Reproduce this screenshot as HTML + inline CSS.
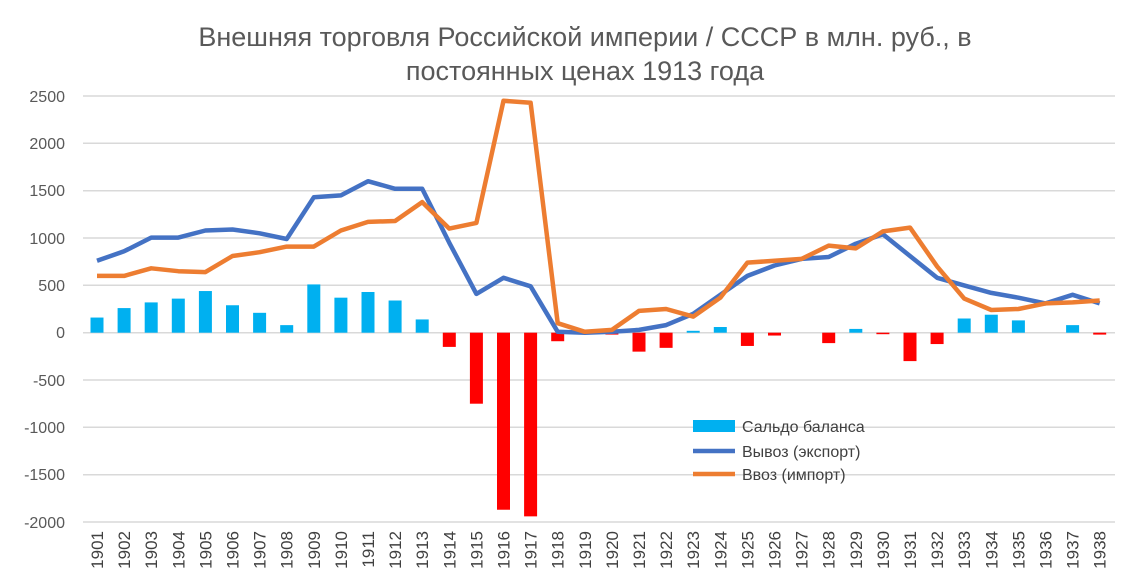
<!DOCTYPE html>
<html><head><meta charset="utf-8"><style>
body{margin:0;background:#fff;}
svg{display:block;font-family:"Liberation Sans Narrow","Liberation Sans",sans-serif;}
</style></head><body>
<svg id="s" width="1147" height="588" viewBox="0 0 1147 588">
<rect width="1147" height="588" fill="#fff"/>
<text x="585" y="46" text-anchor="middle" font-size="27" fill="#595959">Внешняя торговля Российской империи / СССР в млн. руб., в</text>
<text x="585" y="80" text-anchor="middle" font-size="27" fill="#595959">постоянных ценах 1913 года</text>
<g stroke="#d9d9d9" stroke-width="1.5">
<line x1="83" x2="1115" y1="96" y2="96"/><line x1="83" x2="1115" y1="143.3" y2="143.3"/>
<line x1="83" x2="1115" y1="190.7" y2="190.7"/><line x1="83" x2="1115" y1="238" y2="238"/>
<line x1="83" x2="1115" y1="285.3" y2="285.3"/><line x1="83" x2="1115" y1="332.7" y2="332.7"/>
<line x1="83" x2="1115" y1="380" y2="380"/><line x1="83" x2="1115" y1="427.3" y2="427.3"/>
<line x1="83" x2="1115" y1="474.7" y2="474.7"/><line x1="83" x2="1115" y1="522" y2="522"/>
</g>
<g font-size="16" fill="#595959" text-anchor="end" font-family="Liberation Sans,sans-serif">
<text x="65" y="102">2500</text><text x="65" y="149">2000</text><text x="65" y="196">1500</text>
<text x="65" y="244">1000</text><text x="65" y="291">500</text><text x="65" y="338">0</text>
<text x="65" y="386">-500</text><text x="65" y="433">-1000</text><text x="65" y="480">-1500</text>
<text x="65" y="528">-2000</text>
</g>
<g id="bars"></g>
<polyline id="ex" fill="none" stroke="#4472c4" stroke-width="4.5" stroke-linejoin="round"/>
<polyline id="im" fill="none" stroke="#ed7d31" stroke-width="4.5" stroke-linejoin="round"/>
<g font-size="17" fill="#404040" text-anchor="end" font-family="Liberation Sans,sans-serif">
<text transform="translate(103,531) rotate(-90)">1901</text><text transform="translate(130.1,531) rotate(-90)">1902</text>
<text transform="translate(157.2,531) rotate(-90)">1903</text><text transform="translate(184.3,531) rotate(-90)">1904</text>
<text transform="translate(211.4,531) rotate(-90)">1905</text><text transform="translate(238.5,531) rotate(-90)">1906</text>
<text transform="translate(265.6,531) rotate(-90)">1907</text><text transform="translate(292.7,531) rotate(-90)">1908</text>
<text transform="translate(319.8,531) rotate(-90)">1909</text><text transform="translate(346.9,531) rotate(-90)">1910</text>
<text transform="translate(374,531) rotate(-90)">1911</text><text transform="translate(401.1,531) rotate(-90)">1912</text>
<text transform="translate(428.2,531) rotate(-90)">1913</text><text transform="translate(455.3,531) rotate(-90)">1914</text>
<text transform="translate(482.4,531) rotate(-90)">1915</text><text transform="translate(509.5,531) rotate(-90)">1916</text>
<text transform="translate(536.6,531) rotate(-90)">1917</text><text transform="translate(563.7,531) rotate(-90)">1918</text>
<text transform="translate(590.8,531) rotate(-90)">1919</text><text transform="translate(617.9,531) rotate(-90)">1920</text>
<text transform="translate(645,531) rotate(-90)">1921</text><text transform="translate(672.1,531) rotate(-90)">1922</text>
<text transform="translate(699.2,531) rotate(-90)">1923</text><text transform="translate(726.3,531) rotate(-90)">1924</text>
<text transform="translate(753.4,531) rotate(-90)">1925</text><text transform="translate(780.5,531) rotate(-90)">1926</text>
<text transform="translate(807.6,531) rotate(-90)">1927</text><text transform="translate(834.7,531) rotate(-90)">1928</text>
<text transform="translate(861.8,531) rotate(-90)">1929</text><text transform="translate(888.9,531) rotate(-90)">1930</text>
<text transform="translate(916,531) rotate(-90)">1931</text><text transform="translate(943.1,531) rotate(-90)">1932</text>
<text transform="translate(970.2,531) rotate(-90)">1933</text><text transform="translate(997.3,531) rotate(-90)">1934</text>
<text transform="translate(1024.4,531) rotate(-90)">1935</text><text transform="translate(1051.5,531) rotate(-90)">1936</text>
<text transform="translate(1078.6,531) rotate(-90)">1937</text><text transform="translate(1105.7,531) rotate(-90)">1938</text>
</g>
<rect x="693" y="420" width="42" height="12" fill="#00b0f0"/>
<text x="742" y="432" font-size="16" fill="#404040" font-family="Liberation Sans,sans-serif">Сальдо баланса</text>
<line x1="693" x2="735" y1="451" y2="451" stroke="#4472c4" stroke-width="4.5"/>
<text x="742" y="457" font-size="16" fill="#404040" font-family="Liberation Sans,sans-serif">Вывоз (экспорт)</text>
<line x1="693" x2="735" y1="474" y2="474" stroke="#ed7d31" stroke-width="4.5"/>
<text x="742" y="480" font-size="16" fill="#404040" font-family="Liberation Sans,sans-serif">Ввоз (импорт)</text>
</svg>
<script>
var ex=[760,860,1005,1005,1080,1090,1050,990,1430,1450,1600,1520,1520,950,410,580,490,10,0,10,30,80,200,400,600,710,780,800,940,1040,810,580,500,420,370,310,400,310];
var im=[600,600,680,650,640,810,850,910,910,1080,1170,1180,1380,1100,1160,2450,2430,100,10,30,230,250,170,370,740,760,780,920,890,1070,1110,700,360,240,250,310,320,340];
var sa=[160,260,320,360,440,290,210,80,510,370,430,340,140,-150,-750,-1870,-1940,-90,-10,-20,-200,-160,20,60,-140,-30,0,-110,40,-10,-300,-120,150,190,130,0,80,-20];
function X(i){return 97+27.1*i;}function Y(v){return 332.7-v*0.09467;}
var ns="http://www.w3.org/2000/svg",g=document.getElementById("bars");
function pts(a){return a.map(function(v,i){return X(i).toFixed(1)+","+Y(v).toFixed(1)}).join(" ");}
document.getElementById("ex").setAttribute("points",pts(ex));
document.getElementById("im").setAttribute("points",pts(im));
sa.forEach(function(v,i){if(!v)return;var r=document.createElementNS(ns,"rect");var y0=Y(0),y1=Y(v);
r.setAttribute("x",X(i)-6.5);r.setAttribute("width",13);r.setAttribute("y",Math.min(y0,y1));
r.setAttribute("height",Math.max(1.5,Math.abs(y1-y0)));r.setAttribute("fill",v>0?"#00b0f0":"#ff0000");g.appendChild(r);});
</script>
</body></html>
